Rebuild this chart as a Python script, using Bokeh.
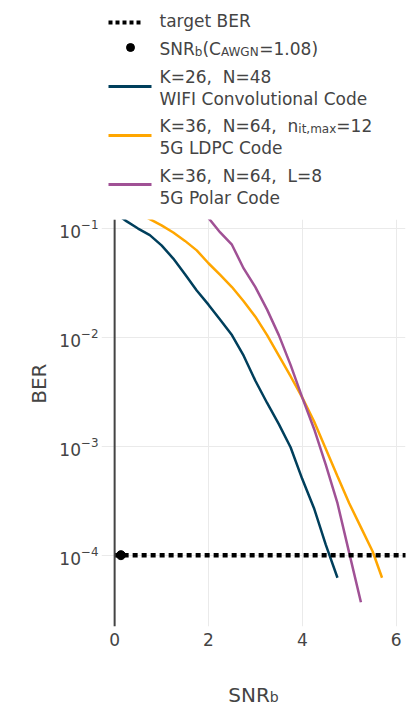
from bokeh.plotting import figure
from bokeh.models import Range1d, Span, FixedTicker, Title
from bokeh.layouts import column
from bokeh.embed import file_html
from bokeh.resources import INLINE
from bokeh.core.properties import value

# ---------------- data ----------------
snr_conv = [0.0, 0.25, 0.5, 0.75, 1.0, 1.25, 1.5, 1.75, 2.0, 2.25, 2.5, 2.75,
            3.0, 3.25, 3.5, 3.75, 4.0, 4.25, 4.5, 4.75]
ber_conv = [0.14, 0.117, 0.10, 0.087, 0.070, 0.053, 0.038, 0.027, 0.020, 0.0145,
            0.0105, 0.0068, 0.0040, 0.0025, 0.0016, 0.00098, 0.00050, 0.00027,
            0.000125, 0.000062]

snr_ldpc = [0.5, 0.75, 1.0, 1.25, 1.5, 1.75, 2.0, 2.25, 2.5, 2.75, 3.0, 3.25,
            3.5, 3.75, 4.0, 4.25, 4.5, 4.75, 5.0, 5.25, 5.5, 5.7]
ber_ldpc = [0.14, 0.122, 0.107, 0.092, 0.077, 0.063, 0.048, 0.0375, 0.029, 0.0215,
            0.0155, 0.0105, 0.0068, 0.0044, 0.0028, 0.0017, 0.00095, 0.00053,
            0.0003, 0.00018, 0.000108, 0.000062]

snr_polar = [1.75, 2.0, 2.25, 2.5, 2.75, 3.0, 3.25, 3.5, 3.75, 4.0, 4.25, 4.5,
             4.75, 5.0, 5.25]
ber_polar = [0.16, 0.125, 0.092, 0.071, 0.043, 0.029, 0.018, 0.0105, 0.0056,
             0.0028, 0.00145, 0.00068, 0.00030, 0.000105, 0.000037]

target_snr = [0.0, 7.0]
target_ber = [1e-4, 1e-4]

shannon_snr = [0.134]
shannon_ber = [1e-4]

x_ticks = [0, 2, 4, 6]
y_ticks = [1e-4, 1e-3, 1e-2, 1e-1]

# ---------------- style ----------------
FONT = "DejaVu Sans"
TEXT = "#444444"
GRID = "#eaeaea"
C_CONV = "#003f5c"
C_LDPC = "#ffa600"
C_POLAR = "#a05195"
SP2 = " \u00a0"   # two visible spaces
BASE_FIX = -6     # glyph baseline correction

W = {' ': .318, '\u00a0': .318, '(': .390, ')': .390, ',': .318, '.': .318,
     '=': .838, 'A': .684, 'C': .698, 'G': .775, 'K': .656, 'L': .557,
     'N': .748, 'R': .695, 'S': .635, 'W': .989, 'b': .635, 'i': .278,
     't': .392, 'm': .974, 'a': .613, 'x': .592, 'n': .634}
for d in "0123456789":
    W[d] = .636


def text_width(t, fs):
    return sum(W.get(c, 0.6) for c in t) * fs


def rich(fig, x, y, pieces, fs_main, fs_sub, dy_sub):
    cx = x
    for txt, sub in pieces:
        fs = fs_sub if sub else fs_main
        fig.text(x=[cx], y=[y + BASE_FIX + (dy_sub if sub else 0)], text=[txt],
                 text_font=value(FONT), text_font_size=value(f"{fs}px"),
                 text_color=TEXT, text_baseline="alphabetic", text_align="left")
        cx += text_width(txt, fs)


FIG_W = 413
BL, BR = 101, 8            # left / right borders shared by the stacked figures


def blank_fig(h):
    f = figure(width=FIG_W, height=h, x_range=Range1d(BL, FIG_W - BR),
               y_range=Range1d(h, 0), x_axis_type=None, y_axis_type=None,
               toolbar_location=None, output_backend="svg",
               min_border_left=BL, min_border_right=BR, min_border_top=0,
               min_border_bottom=0, outline_line_color=None)
    f.grid.visible = False
    return f


# ---------------- legend figure ----------------
LH = 210
leg = blank_fig(LH)
LFS, LSUB, LDY = 17, 12, 3.5
TX = 159
leg.line([108, 143], [22, 22], line_color="black", line_width=4, line_dash="4 3")
rich(leg, TX, 26, [("target BER", False)], LFS, LSUB, LDY)
leg.scatter([130], [47], size=8, color="black")
rich(leg, TX, 54, [("SNR", False), ("b", True), ("(C", False), ("AWGN", True),
                   ("=1.08)", False)], LFS, LSUB, LDY)
leg.line([108, 151], [86, 86], line_color=C_CONV, line_width=3)
rich(leg, TX, 82, [("K=26," + SP2 + "N=48", False)], LFS, LSUB, LDY)
rich(leg, TX, 104, [("WIFI Convolutional Code", False)], LFS, LSUB, LDY)
leg.line([108, 151], [135, 135], line_color=C_LDPC, line_width=3)
rich(leg, TX, 131, [("K=36," + SP2 + "N=64," + SP2, False), ("n", False),
                    ("it,max", True), ("=12", False)], LFS, LSUB, LDY)
rich(leg, TX, 153, [("5G LDPC Code", False)], LFS, LSUB, LDY)
leg.line([108, 151], [184, 184], line_color=C_POLAR, line_width=3)
rich(leg, TX, 181, [("K=36," + SP2 + "N=64," + SP2 + "L=8", False)], LFS, LSUB, LDY)
rich(leg, TX, 203, [("5G Polar Code", False)], LFS, LSUB, LDY)

# ---------------- main figure ----------------
TOP = 219 - LH          # frame top inside the main figure
MH = 670 - LH
p = figure(width=FIG_W, height=MH, x_range=Range1d(-0.28, 6.2),
           y_range=Range1d(10 ** -4.655, 10 ** -0.917), y_axis_type="log",
           toolbar_location=None, output_backend="svg",
           min_border_left=BL, min_border_right=BR, min_border_top=TOP,
           min_border_bottom=670 - 626, outline_line_color=None)

p.xaxis.ticker = FixedTicker(ticks=x_ticks)
p.yaxis.ticker = FixedTicker(ticks=y_ticks)
for ax in (p.xaxis, p.yaxis):
    ax.axis_line_color = None
    ax.major_tick_line_color = None
    ax.minor_tick_line_color = None
    ax.major_tick_in = 0
    ax.major_tick_out = 0
    ax.minor_tick_out = 0
    ax.major_label_text_font = FONT
    ax.major_label_text_font_size = "17px"
    ax.major_label_text_color = TEXT
p.xaxis.major_label_standoff = 6
p.yaxis.major_label_standoff = 3
p.xgrid.grid_line_color = GRID
p.ygrid.grid_line_color = GRID
p.xgrid.grid_line_width = 1
p.ygrid.grid_line_width = 1

p.add_layout(Span(location=0, dimension="height", line_color=TEXT, line_width=2))

p.line(snr_conv, ber_conv, line_color=C_CONV, line_width=2.5)
p.line(snr_ldpc, ber_ldpc, line_color=C_LDPC, line_width=2.5)
p.line(snr_polar, ber_polar, line_color=C_POLAR, line_width=2.5)
p.line(target_snr, target_ber, line_color="black", line_width=4.5, line_dash="5 4")
p.scatter(shannon_snr, shannon_ber, size=9, color="black")

# y-axis title as a side title, shifted up along the axis
p.add_layout(Title(text="BER", align="right", offset=144, vertical_align="middle",
                   standoff=10, text_font=FONT, text_font_size="20px",
                   text_font_style="normal", text_color=TEXT), "left")

# ---------------- x-axis title strip ----------------
XH = 707 - 670
xt = blank_fig(XH)
AFS, ASUB = 20, 14
w_tot = text_width("SNR", AFS) + text_width("b", ASUB)
cx = BL + (FIG_W - BR - BL) / 2
rich(xt, cx - w_tot / 2, 700 - 670, [("SNR", False), ("b", True)], AFS, ASUB, 2.5)

layout = column(leg, p, xt, spacing=0)
open("out.html", "w").write(file_html(layout, INLINE))
